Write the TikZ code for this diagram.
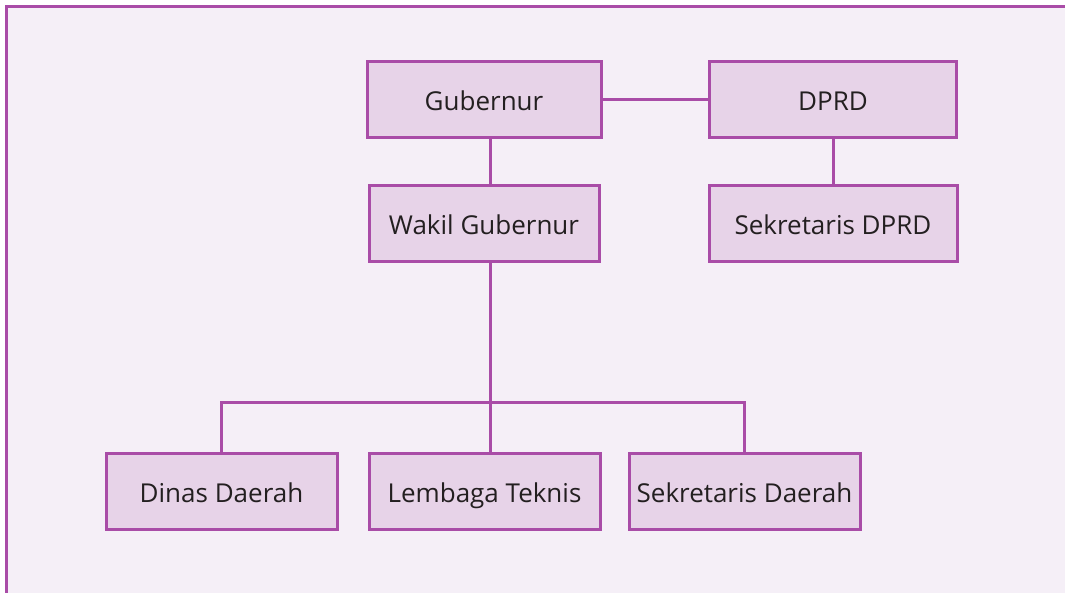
\documentclass[tikz,border=0pt]{standalone}
\usepackage{fontspec}
\setmainfont{Open Sans}
\usepackage{tikz}

\definecolor{framepurple}{HTML}{A94CA7}
\definecolor{boxfill}{HTML}{E7D3E8}
\definecolor{pagefill}{HTML}{F5EFF7}
\definecolor{textdark}{HTML}{231F20}

\tikzset{
  orgbox/.style={draw=framepurple, fill=boxfill, line width=3pt, inner sep=0pt,
    minimum height=76pt, text height=24pt, text depth=2pt, text=textdark,
    font=\fontsize{26}{30}\selectfont},
  link/.style={draw=framepurple, line width=3pt}
}

\begin{document}
\begin{tikzpicture}[x=1pt, y=-1pt]
    \useasboundingbox (0,0) rectangle (1065,593);

    % Draw frame
    \fill[pagefill] (6,7) rectangle (1075,603);
    \draw[framepurple, line width=3pt] (1075,7) -- (6,7) -- (6,603);

    % Boxes
    \foreach \n/\x/\y/\w/\t in {gub/484/100/234/Gubernur, dprd/833/100/247/DPRD,
      wakil/484/224/230/Wakil Gubernur, sekdprd/833/224/248/Sekretaris DPRD,
      dinas/221.5/491/231/Dinas Daerah, lembaga/484.5/491/231/Lembaga Teknis,
      sekda/744.5/491/231/Sekretaris Daerah} {
      \node[orgbox, minimum width=\w pt] (\n) at (\x,\y) {\t};
    }

    % Connectors
    \coordinate (trunk) at (490,402);
    \draw[link] (gub.east) -- (dprd.west);
    \draw[link] (dprd.south) -- (sekdprd.north);
    \draw[link] (gub.south -| trunk) -- (wakil.north -| trunk);
    \draw[link] (wakil.south -| trunk) -- (lembaga.north -| trunk);
    \draw[link] (dinas.north) |- (trunk) -| (sekda.north);

  \end{tikzpicture}
\end{document}
